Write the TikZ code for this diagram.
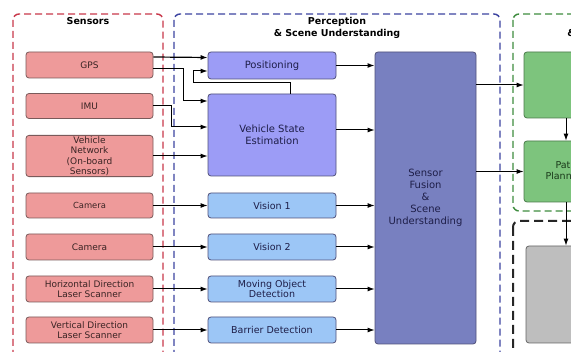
\documentclass[tikz,border=0pt]{standalone}
\usepackage{fontspec}
\setmainfont{DejaVu Sans}
\usepackage{xcolor}
\usetikzlibrary{arrows.meta}
\definecolor{sensorfill}{HTML}{EE9A9A}
\definecolor{sensorline}{HTML}{7A5A5A}
\definecolor{sensortext}{HTML}{3A2424}
\definecolor{percfill}{HTML}{9C9CF6}
\definecolor{visfill}{HTML}{9CC6F6}
\definecolor{fusfill}{HTML}{7880C0}
\definecolor{percline}{HTML}{50507A}
\definecolor{perctext}{HTML}{1E1E48}
\definecolor{planfill}{HTML}{7DC47D}
\definecolor{planline}{HTML}{4A7A4A}
\definecolor{plantext}{HTML}{1A3A1A}
\definecolor{ctrlfill}{HTML}{BEBEBE}
\definecolor{redgroup}{HTML}{C8384A}
\definecolor{bluegroup}{HTML}{3C44A0}
\definecolor{greengroup}{HTML}{3E8C3E}

\begin{document}
\begin{tikzpicture}[x=1pt, y=-1pt,
            group/.style={rounded corners=6pt, line width=1.4pt, dash pattern=on 7pt off 4pt},
            grouptitle/.style={font=\fontsize{9.5}{12}\selectfont\bfseries, align=center},
            sensor/.style={draw=sensorline, fill=sensorfill, text=sensortext, rounded corners=3pt,
              minimum width=127pt, align=center, inner sep=1pt, line width=0.8pt,
              font=\fontsize{9}{10.4}\selectfont},
            perc/.style={draw=percline, fill=percfill, text=perctext, rounded corners=3pt,
              minimum width=128pt, align=center, inner sep=1pt, line width=0.8pt,
              font=\fontsize{10}{11.6}\selectfont},
            vis/.style={perc, fill=visfill, font=\fontsize{9.5}{10.8}\selectfont},
            plan/.style={draw=planline, fill=planfill, text=plantext, rounded corners=3pt,
              minimum width=84pt, align=center, line width=0.8pt,
              font=\fontsize{9.5}{11.5}\selectfont},
            link/.style={-{Latex[length=7pt,width=5pt]}, line width=1pt}]
            \clip (0,0) rectangle (571,352);
            \fill[white] (0,0) rectangle (571,352);
            \draw[group, redgroup] (13,14) rectangle (163,364);
            \draw[group, bluegroup] (174,14) rectangle (500,364);
            \draw[group, greengroup] (513,14) rectangle (700,211);
            \draw[group, black!85, line width=2pt, dash pattern=on 9pt off 5pt] (513,221) rectangle (700,364);
            \node[grouptitle] (sensortitle) at (88,21) {Sensors};
            \node[grouptitle] (perctitle) at (337,28) {Perception\\\& Scene Understanding};
            \node[grouptitle] (plantitle) at (617,28) {Planning\\\& Decision Making};

            \node[sensor, minimum height=26pt] (gps) at (89.5,65) {GPS};
            \node[sensor, minimum height=25pt] (imu) at (89.5,106) {IMU};
            \node[sensor, minimum height=40pt] (vnet) at (89.5,156) {Vehicle\\Network\\(On-board\\Sensors)};
            \node[sensor, minimum height=25pt, font=\fontsize{8.4}{10}\selectfont] (cam1) at (89.5,205.5) {Camera};
            \node[sensor, minimum height=26pt] (cam2) at (89.5,247) {Camera};
            \node[sensor, minimum height=26pt] (hlaser) at (89.5,289) {Horizontal Direction\\Laser Scanner};
            \node[sensor, minimum height=26pt] (vlaser) at (89.5,330) {Vertical Direction\\Laser Scanner};

            \node[perc, minimum height=27pt] (pos) at (272,65.5) {Positioning};
            \node[perc, minimum height=82pt] (vse) at (272,135) {Vehicle State\\Estimation};
            \node[vis, minimum height=25pt] (vis1) at (272,205.5) {Vision 1};
            \node[vis, minimum height=26pt] (vis2) at (272,247) {Vision 2};
            \node[vis, minimum height=26pt] (mod) at (272,289) {Moving Object\\Detection};
            \node[vis, minimum height=26pt] (bar) at (272,330) {Barrier Detection};
            \node[perc, fill=fusfill, minimum width=101pt, minimum height=292pt,
              font=\fontsize{10}{12}\selectfont] (fus) at (425.5,198) {Sensor\\Fusion\\\&\\Scene\\Understanding};

            \node[plan, minimum height=66pt] (mission) at (566,85) {};
            \node[plan, minimum height=61pt] (path) at (566,171.5) {Path\\Planning};
            \node[draw=black!60, fill=ctrlfill, rounded corners=3pt, minimum width=80pt,
              minimum height=97pt, line width=0.8pt] (ctrl) at (566,294.5) {};

            \draw[link, line width=1.2pt] ([yshift=8pt]gps.east) -- ([yshift=8pt]pos.west);
            \draw[link] ([yshift=-4pt]gps.east) -- ++(30,0) |- ([yshift=34pt]vse.west);
            \draw[link] (imu.east) -- ++(18,0) |- ([yshift=8pt]vse.west);
            \draw[link] (vnet.east) -- (vnet.east -| vse.west);
            \draw[link] ([xshift=18pt]vse.north) -- ++(0,-11) -| ([xshift=-14pt,yshift=-5.5pt]pos.west)
              -- ([yshift=-5.5pt]pos.west);
            \draw[link] (cam1.east) -- (vis1.west);
            \draw[link] (cam2.east) -- (vis2.west);
            \draw[link] (hlaser.east) -- (mod.west);
            \draw[link] (vlaser.east) -- (bar.west);

            \draw[link, line width=1.6pt] (pos.east) -- (pos.east -| fus.west);
            \draw[link] ([yshift=5pt]vse.east) -- ([yshift=5pt]vse.east -| fus.west);
            \draw[link] (vis1.east) -- (vis1.east -| fus.west);
            \draw[link] (vis2.east) -- (vis2.east -| fus.west);
            \draw[link] (mod.east) -- (mod.east -| fus.west);
            \draw[link] (bar.east) -- (bar.east -| fus.west);

            \draw[link] (mission.west -| fus.east) -- (mission.west);
            \draw[link] (path.west -| fus.east) -- (path.west);
            \draw[link] (mission.south) -- (path.north);
            \draw[link] (path.south) -- (ctrl.north);
        \end{tikzpicture}
\end{document}
